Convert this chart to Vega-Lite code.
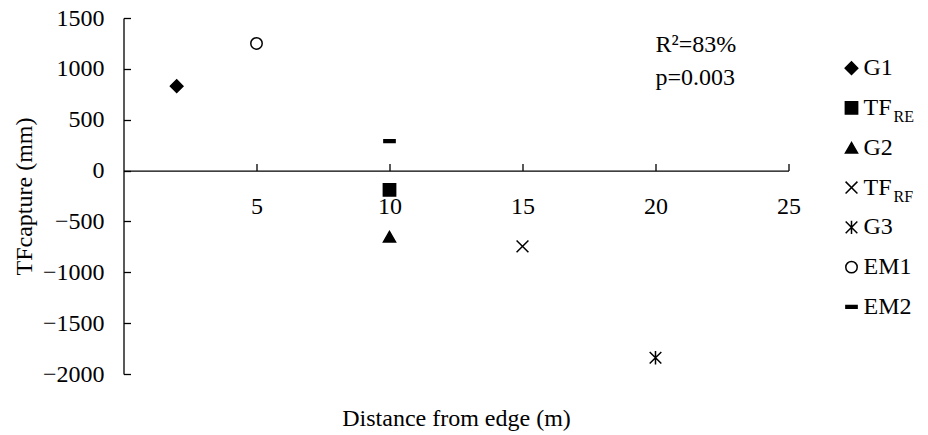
{
  "$schema": "https://vega.github.io/schema/vega-lite/v6.json",
  "background": "white",
  "padding": {"left": 12.5, "top": 6, "right": 5, "bottom": 5},
  "config": {
    "font": "Liberation Serif",
    "view": {"stroke": null},
    "axis": {
      "grid": false,
      "domainColor": "black",
      "tickColor": "black",
      "labelColor": "black",
      "titleColor": "black",
      "labelFont": "Liberation Serif",
      "titleFont": "Liberation Serif",
      "labelFontSize": 24,
      "titleFontSize": 24,
      "titleFontWeight": "normal",
      "domainWidth": 1.3,
      "tickWidth": 1.3
    }
  },
  "bounds": "flush",
  "spacing": 39,
  "hconcat": [
    {
      "width": 665,
      "height": 356,
      "layer": [
        {
          "data": {
            "values": [
              {"series": "G1", "distance": 2, "tf": 830},
              {"series": "TF_RE", "distance": 10, "tf": -190},
              {"series": "G2", "distance": 10, "tf": -650},
              {"series": "TF_RF", "distance": 15, "tf": -745},
              {"series": "G3", "distance": 20, "tf": -1840},
              {"series": "EM1", "distance": 5, "tf": 1250},
              {"series": "EM2", "distance": 10, "tf": 290}
            ]
          },
          "mark": {"type": "point", "filled": true, "strokeWidth": 1.5, "opacity": 1},
          "encoding": {
            "x": {
              "field": "distance",
              "type": "quantitative",
              "scale": {"domain": [0, 25], "nice": false, "zero": false},
              "axis": {
                "title": "Distance from edge (m)",
                "values": [5, 10, 15, 20, 25],
                "format": "d",
                "offset": -203.43,
                "tickSize": -7,
                "labelPadding": 31,
                "labelFlush": false,
                "labelFont": "Liberation Serif",
                "titleY": 254.5,
                "titleBaseline": "alphabetic"
              }
            },
            "y": {
              "field": "tf",
              "type": "quantitative",
              "scale": {"domain": [-2000, 1500], "nice": false, "zero": false},
              "axis": {
                "title": "TFcapture (mm)",
                "values": [-2000, -1500, -1000, -500, 0, 500, 1000, 1500],
                "format": "d",
                "tickSize": -7,
                "labelPadding": 26.5,
                "labelFlush": false,
                "labelFont": "Liberation Serif",
                "titleX": -92,
                "titleBaseline": "alphabetic"
              }
            },
            "shape": {
              "field": "series",
              "type": "nominal",
              "scale": {
                "domain": ["G1", "TF_RE", "G2", "TF_RF", "G3", "EM1", "EM2"],
                "range": ["diamond", "square", "triangle-up", "M-1,-1L1,1M-1,1L1,-1", "M-1,-1L1,1M-1,1L1,-1M0,-1.15L0,1.15", "circle", "M-1,-0.24H1V0.24H-1Z"]
              },
              "legend": null
            },
            "fill": {
              "field": "series",
              "type": "nominal",
              "scale": {
                "domain": ["G1", "TF_RE", "G2", "TF_RF", "G3", "EM1", "EM2"],
                "range": ["black", "black", "black", "black", "black", "white", "black"]
              },
              "legend": null
            },
            "size": {
              "field": "series",
              "type": "nominal",
              "scale": {
                "domain": ["G1", "TF_RE", "G2", "TF_RF", "G3", "EM1", "EM2"],
                "range": [156, 125, 150, 100, 144, 90, 160]
              },
              "legend": null
            },
            "stroke": {"value": "black"}
          }
        },
        {
          "data": {"values": [{"label": "R²=83%", "x": 20, "y": 1170}, {"label": "p=0.003", "x": 20, "y": 840}]},
          "mark": {"type": "text", "align": "left", "baseline": "alphabetic", "fontSize": 24, "font": "Liberation Serif", "fill": "black"},
          "encoding": {
            "x": {"field": "x", "type": "quantitative"},
            "y": {"field": "y", "type": "quantitative"},
            "text": {"field": "label"}
          }
        }
      ]
    },
    {
      "width": 48,
      "height": 356,
      "data": {
        "values": [
          {"series": "G1", "name": "G1", "sub": "", "order": 0},
          {"series": "TF_RE", "name": "TF", "sub": "RE", "order": 1},
          {"series": "G2", "name": "G2", "sub": "", "order": 2},
          {"series": "TF_RF", "name": "TF", "sub": "RF", "order": 3},
          {"series": "G3", "name": "G3", "sub": "", "order": 4},
          {"series": "EM1", "name": "EM1", "sub": "", "order": 5},
          {"series": "EM2", "name": "EM2", "sub": "", "order": 6}
        ]
      },
      "encoding": {
        "y": {
          "field": "order",
          "type": "quantitative",
          "scale": {"domain": [-1.26, 7.685], "reverse": true, "nice": false, "zero": false},
          "axis": null
        }
      },
      "layer": [
        {
          "mark": {"type": "point", "filled": true, "strokeWidth": 1.5, "opacity": 1},
          "encoding": {
            "shape": {
              "field": "series",
              "type": "nominal",
              "scale": {
                "domain": ["G1", "TF_RE", "G2", "TF_RF", "G3", "EM1", "EM2"],
                "range": ["diamond", "square", "triangle-up", "M-1,-1L1,1M-1,1L1,-1", "M-1,-1L1,1M-1,1L1,-1M0,-1.15L0,1.15", "circle", "M-1,-0.24H1V0.24H-1Z"]
              },
              "legend": null
            },
            "fill": {
              "field": "series",
              "type": "nominal",
              "scale": {
                "domain": ["G1", "TF_RE", "G2", "TF_RF", "G3", "EM1", "EM2"],
                "range": ["black", "black", "black", "black", "black", "white", "black"]
              },
              "legend": null
            },
            "size": {
              "field": "series",
              "type": "nominal",
              "scale": {
                "domain": ["G1", "TF_RE", "G2", "TF_RF", "G3", "EM1", "EM2"],
                "range": [110, 100, 120, 100, 110, 80, 130]
              },
              "legend": null
            },
            "stroke": {"value": "black"}
          }
        },
        {
          "mark": {"type": "text", "align": "left", "baseline": "alphabetic", "dx": 12, "dy": 7, "fontSize": 24, "font": "Liberation Serif", "fill": "black"},
          "encoding": {"text": {"field": "name"}}
        },
        {
          "mark": {"type": "text", "align": "left", "baseline": "alphabetic", "dx": 42, "dy": 14, "fontSize": 16, "font": "Liberation Serif", "fill": "black"},
          "encoding": {"text": {"field": "sub"}}
        }
      ]
    }
  ]
}
